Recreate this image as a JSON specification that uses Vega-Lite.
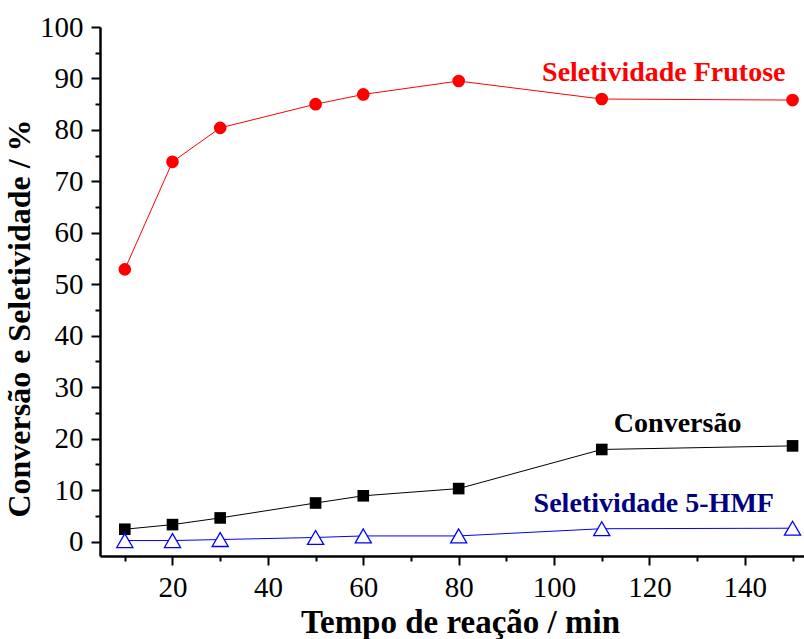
{
  "$schema": "https://vega.github.io/schema/vega-lite/v6.json",
  "width": 704,
  "height": 529,
  "autosize": {"type": "none"},
  "padding": {"left": 100, "top": 27, "right": 0, "bottom": 83},
  "background": "white",
  "config": {
    "view": {"stroke": null},
    "font": "Liberation Serif"
  },
  "datasets": {
    "pts": [
      {"t": 10, "v": 52.9, "s": "Frutose"},
      {"t": 20, "v": 73.8, "s": "Frutose"},
      {"t": 30, "v": 80.4, "s": "Frutose"},
      {"t": 50, "v": 85.0, "s": "Frutose"},
      {"t": 60, "v": 86.9, "s": "Frutose"},
      {"t": 80, "v": 89.5, "s": "Frutose"},
      {"t": 110, "v": 86.0, "s": "Frutose"},
      {"t": 150, "v": 85.8, "s": "Frutose"},
      {"t": 10, "v": 2.4, "s": "Conv"},
      {"t": 20, "v": 3.3, "s": "Conv"},
      {"t": 30, "v": 4.6, "s": "Conv"},
      {"t": 50, "v": 7.5, "s": "Conv"},
      {"t": 60, "v": 8.9, "s": "Conv"},
      {"t": 80, "v": 10.3, "s": "Conv"},
      {"t": 110, "v": 17.9, "s": "Conv"},
      {"t": 150, "v": 18.6, "s": "Conv"},
      {"t": 10, "v": 0.2, "s": "HMF"},
      {"t": 20, "v": 0.2, "s": "HMF"},
      {"t": 30, "v": 0.4, "s": "HMF"},
      {"t": 50, "v": 0.8, "s": "HMF"},
      {"t": 60, "v": 1.1, "s": "HMF"},
      {"t": 80, "v": 1.1, "s": "HMF"},
      {"t": 110, "v": 2.5, "s": "HMF"},
      {"t": 150, "v": 2.6, "s": "HMF"}
    ],
    "labels": [
      {"t": 123, "v": 91, "text": "Seletividade Frutose", "s": "Frutose"},
      {"t": 125.9, "v": 22.8, "text": "Conversão", "s": "Conv"},
      {"t": 120.9, "v": 7.4, "text": "Seletividade 5-HMF", "s": "HMF"}
    ],
    "topticks": [
      {"t": 10}, {"t": 20}, {"t": 30}, {"t": 40}, {"t": 50}, {"t": 60}, {"t": 70}, {"t": 80},
      {"t": 90}, {"t": 100}, {"t": 110}, {"t": 120}, {"t": 130}, {"t": 140}, {"t": 150}
    ]
  },
  "encoding": {
    "x": {
      "field": "t", "type": "quantitative",
      "scale": {"domain": [4.8, 152.4], "nice": false, "zero": false},
      "axis": {
        "title": "Tempo de reação / min",
        "titleFontSize": 33, "titleFontWeight": "bold", "titleColor": "black", "titleFont": "Liberation Serif",
        "titlePadding": 4, "titleX": 360,
        "values": [10, 20, 30, 40, 50, 60, 70, 80, 90, 100, 110, 120, 130, 140, 150],
        "labelExpr": "datum.value % 20 === 0 ? datum.label : ''",
        "labelFontSize": 29, "labelColor": "black", "labelFont": "Liberation Serif", "labelPadding": 8,
        "tickSize": {"condition": {"test": "datum.value % 20 === 0", "value": 9}, "value": 5},
        "tickWidth": 2, "tickColor": "black",
        "domainColor": "black", "domainWidth": 2.5,
        "grid": false, "labelFlush": false, "labelOverlap": false
      }
    },
    "y": {
      "field": "v", "type": "quantitative",
      "scale": {"domain": [-2.8, 100], "nice": false, "zero": false},
      "axis": {
        "title": "Conversão e Seletividade / %",
        "titleFontSize": 32, "titleFontWeight": "bold", "titleColor": "black", "titleFont": "Liberation Serif",
        "titlePadding": 3, "titleY": 291,
        "values": [0, 5, 10, 15, 20, 25, 30, 35, 40, 45, 50, 55, 60, 65, 70, 75, 80, 85, 90, 95, 100],
        "labelExpr": "datum.value % 10 === 0 ? datum.label : ''",
        "labelFontSize": 29, "labelColor": "black", "labelFont": "Liberation Serif", "labelPadding": 8,
        "tickSize": {"condition": {"test": "datum.value % 10 === 0", "value": 9}, "value": 5},
        "tickWidth": 2, "tickColor": "black",
        "domainColor": "black", "domainWidth": 2.5,
        "grid": false, "labelFlush": false, "labelOverlap": false
      }
    }
  },
  "layer": [
    {
      "data": {"name": "pts"},
      "mark": {"type": "line", "strokeWidth": 1},
      "encoding": {
        "detail": {"field": "s"},
        "color": {"field": "s", "type": "nominal", "scale": {"domain": ["Frutose", "Conv", "HMF"], "range": ["#ff0000", "#000000", "#0000ff"]}, "legend": null}
      }
    },
    {
      "data": {"name": "pts"},
      "transform": [{"filter": "datum.s === 'Frutose'"}],
      "mark": {"type": "point", "shape": "circle", "filled": true, "color": "#ff0000", "size": 160, "opacity": 1}
    },
    {
      "data": {"name": "pts"},
      "transform": [{"filter": "datum.s === 'Conv'"}],
      "mark": {"type": "point", "shape": "square", "filled": true, "color": "#000000", "size": 135, "opacity": 1}
    },
    {
      "data": {"name": "pts"},
      "transform": [{"filter": "datum.s === 'HMF'"}],
      "mark": {"type": "point", "shape": "triangle-up", "filled": true, "fill": "white", "stroke": "#0000ff", "strokeWidth": 1.3, "size": 260, "opacity": 1}
    },
    {
      "data": {"name": "labels"},
      "mark": {"type": "text", "font": "Liberation Serif", "fontWeight": "bold", "fontSize": 28, "align": "center", "baseline": "middle"},
      "encoding": {
        "text": {"field": "text"},
        "color": {
          "condition": [
            {"test": "datum.s === 'Frutose'", "value": "#ff0000"},
            {"test": "datum.s === 'HMF'", "value": "#000080"}
          ],
          "value": "#000000"
        }
      }
    },
    {
      "data": {"values": [{}]},
      "mark": {"type": "rule", "color": "black", "strokeWidth": 2.5},
      "encoding": {
        "x": {"datum": 4.8},
        "x2": {"datum": 152.4},
        "y": {"datum": 100}
      }
    },
    {
      "data": {"name": "topticks"},
      "mark": {"type": "rule", "color": "black", "strokeWidth": 1.5},
      "encoding": {
        "y": {"datum": 100},
        "y2": {"datum": 99.2}
      }
    }
  ]
}
